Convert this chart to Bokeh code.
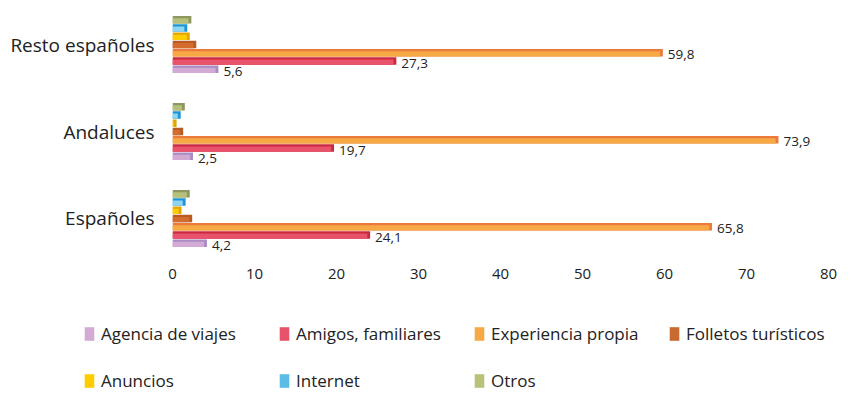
import numpy as np
from bokeh.plotting import figure
from bokeh.models import ColumnDataSource, FixedTicker, Legend, LegendItem
from bokeh.core.properties import value
from bokeh.embed import file_html
from bokeh.resources import INLINE

# ---- data ----
groups = ["Españoles", "Andaluces", "Resto españoles"]
series = ["Agencia de viajes", "Amigos, familiares", "Experiencia propia",
          "Folletos turísticos", "Anuncios", "Internet", "Otros"]
agencia = [4.2, 2.5, 5.6]
amigos = [24.1, 19.7, 27.3]
experiencia = [65.8, 73.9, 59.8]
folletos = [2.4, 1.3, 2.9]
anuncios = [1.1, 0.5, 2.1]
internet = [1.6, 1.0, 1.8]
otros = [2.1, 1.5, 2.3]
labelled = [True, True, True, False, False, False, False]
x_ticks = [0, 10, 20, 30, 40, 50, 60, 70, 80]

values = [agencia, amigos, experiencia, folletos, anuncios, internet, otros]
face_colors = ["#d3aad3", "#e8536b", "#f7a945", "#d36c2e", "#ffcc00", "#8fd5f3", "#b6c07b"]
dark_colors = ["#a98cc4", "#c9283f", "#ea7b3c", "#b85a22", "#e3a500", "#1b95d6", "#8d9760"]
legend_colors = ["#d3aad3", "#e8536b", "#f7a945", "#c96a30", "#ffcc00", "#5bbde3", "#b9c278"]

FONT = "Open Sans"
TXT = "#222222"

p = figure(width=844, height=284, output_backend="svg", toolbar_location=None,
           x_range=(0, 80), y_range=(-0.391, 2.506),
           min_border_left=172, min_border_right=16, min_border_top=0,
           min_border_bottom=32)
p.outline_line_color = None
p.grid.grid_line_color = None

pitch = 0.095
bar_h = 0.085
cap = 0.35
gi = np.arange(len(groups))
for s, name in enumerate(series):
    v = np.array(values[s], dtype=float)
    y = gi + (s - 3) * pitch
    src = ColumnDataSource(dict(y=y, v=v, vf=np.maximum(v - cap, 0.05),
                                yf=y - 0.0125,
                                lab=[f"{x:.1f}".replace(".", ",") for x in v]))
    p.hbar(y="y", left=0, right="v", height=bar_h, source=src,
           fill_color=dark_colors[s], line_color=None)
    p.hbar(y="yf", left=0, right="vf", height=0.06, source=src,
           fill_color=face_colors[s], line_color=None)
    if labelled[s]:
        p.text(x="v", y="y", text="lab", source=src, x_offset=5, y_offset=2,
               text_font=value(FONT), text_font_size="13.5px", text_color=TXT,
               text_baseline="middle", text_align="left")

p.xaxis.ticker = FixedTicker(ticks=x_ticks)
p.xaxis.axis_line_color = None
p.xaxis.major_tick_line_color = None
p.xaxis.minor_tick_line_color = None
p.xaxis.major_label_standoff = 10
p.xaxis.major_label_text_font = FONT
p.xaxis.major_label_text_font_size = "15px"
p.xaxis.major_label_text_color = TXT

p.yaxis.ticker = FixedTicker(ticks=list(gi))
p.yaxis.major_label_overrides = {int(i): g for i, g in zip(gi, groups)}
p.yaxis.axis_line_color = None
p.yaxis.major_tick_line_color = None
p.yaxis.minor_tick_line_color = None
p.yaxis.major_label_standoff = 12
p.yaxis.major_label_text_font = FONT
p.yaxis.major_label_text_font_size = "19px"
p.yaxis.major_label_text_color = TXT

# ---- legend figure (separate root, so its frame is not aligned to the chart) ----
pl = figure(width=844, height=108, output_backend="svg", toolbar_location=None,
            x_axis_location=None, y_axis_location=None,
            x_range=(0, 1), y_range=(0, 1),
            min_border_left=0, min_border_right=0, min_border_top=0,
            min_border_bottom=0)
pl.outline_line_color = None
pl.grid.grid_line_color = None
items = []
for s, name in enumerate(series):
    r = pl.hbar(y=[0.5], left=[0], right=[0], height=0,
                fill_color=legend_colors[s], line_color=None)
    items.append(LegendItem(label=name, renderers=[r]))

legend = Legend(items=items, orientation="horizontal", ncols=4, location=(83, 0),
                glyph_width=12, glyph_height=17, label_standoff=6,
                label_width=153, label_height=20, spacing=24, padding=0,
                margin=0, border_line_color=None, background_fill_alpha=0,
                label_text_font=FONT, label_text_font_size="17px",
                label_text_color=TXT)
pl.add_layout(legend, "center")

open("out.html", "w").write(file_html([p, pl], INLINE))
